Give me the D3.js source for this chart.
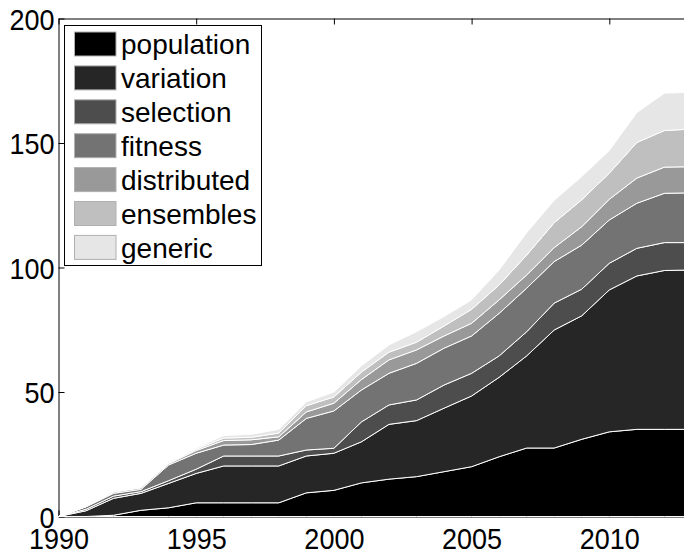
<!DOCTYPE html>
<html><head><meta charset="utf-8">
<script src="https://cdn.jsdelivr.net/npm/d3@7"></script>
<style>body{margin:0;background:#fff}text{font-family:"Liberation Sans",Arial,Helvetica,sans-serif}</style>
</head><body><svg id="c" width="684" height="555"></svg>
<script>
const years = [1990,1991,1992,1993,1994,1995,1996,1997,1998,1999,2000,2001,2002,2003,2004,2005,2006,2007,2008,2009,2010,2011,2012,2013];
const seriesNames = ["population","variation","selection","fitness","distributed","ensembles","generic"];
const population  = [0,0,0.5,2.5,3.5,5.5,5.5,5.5,5.5,9.5,10.5,13.5,15,16,18,20,24,27.5,27.5,31,34,35,35,35];
const variation   = [0,2.3,6.8,6.8,9.8,11.8,14.8,14.8,14.8,14.8,14.9,16.5,22,22.5,25.5,28.4,31.9,37,47.4,49.6,57,61.6,63.8,64];
const selection   = [0,0.6,0.9,0.7,1.1,1.7,4,4,4,2.4,2,8,7.8,8.3,9.3,9.1,8.6,9.7,10.8,10.7,10.7,11.1,11.2,11];
const fitness     = [0,1,1.1,0.9,6.3,6.4,4.4,4.6,6.4,12.7,15,12.8,12.7,14.7,14.8,15,17.1,17.5,16.7,17.7,17.4,18.1,19.8,20];
const distributed = [0,0.1,0.5,0.6,0.5,1.1,1.8,1.9,1.3,2.6,3.1,4.2,5.4,5.4,4.9,5.1,5.4,5.3,5.6,7.4,8.3,10.1,10.5,10.5];
const ensembles   = [0,0,0.2,0.3,0.3,0.5,1,1,1.5,2.5,2.5,3,3.1,3.1,4,5.6,6,8,10,10.8,10.5,14.3,14.7,15.1];
const generic     = [0,0.2,0.3,0.2,0.3,0.5,1,1.2,1.5,1.5,2,2.5,2.9,4.2,3.8,3.8,6,9,9,9.3,9.1,12,15,14.8];
const xTicks = [1990,1995,2000,2005,2010];
const yTicks = [0,50,100,150,200];
const colors = ["#000000","#262626","#4d4d4d","#737373","#999999","#bfbfbf","#e6e6e6"];

const seriesData = {population,variation,selection,fitness,distributed,ensembles,generic};
const table = years.map((yr,i)=>{const r={year:yr}; seriesNames.forEach(k=>r[k]=seriesData[k][i]); return r;});
const stacked = d3.stack().keys(seriesNames)(table);

const L=58.5, T=18.5, B=516.5, pxPerYear=27.54;
const x = d3.scaleLinear().domain([1990,2013]).range([L, L+23*pxPerYear]);
const y = d3.scaleLinear().domain([0,200]).range([B,T]);
const svg = d3.select("#c");
const FS = 28, TFS = 27;

// axes (drawn beneath the data, as in MATLAB)
const gl = svg.append("g").attr("transform",`translate(${L},0)`)
  .call(d3.axisLeft(y).tickValues(yTicks).tickSizeInner(-6).tickSizeOuter(0).tickPadding(4).tickFormat(d3.format("d")));
const gt = svg.append("g").attr("transform",`translate(0,${T})`)
  .call(d3.axisTop(x).tickValues(xTicks).tickSizeInner(-6).tickSizeOuter(0).tickFormat(""));
const gb = svg.append("g").attr("transform",`translate(0,${B})`)
  .call(d3.axisBottom(x).tickValues(xTicks).tickSizeInner(-6).tickSizeOuter(0).tickPadding(0).tickFormat(d3.format("d")));
[gl,gt,gb].forEach(g=>{g.selectAll("path,line").attr("stroke","#000").attr("stroke-width",1);
  g.selectAll("text").attr("font-size",TFS).attr("fill","#000").attr("font-family",null);});
gl.selectAll("text").attr("dy",null).attr("y",0).attr("transform","translate(0,10.5) scale(1,1.1)");
gb.selectAll("text").attr("dy",null).attr("y",0).attr("transform","translate(0,32.5) scale(1,1.1)");

const area = d3.area().x(d=>x(d.data.year)).y0(d=>y(d[0])).y1(d=>y(d[1]));
svg.append("g").selectAll("path").data(stacked).join("path")
  .attr("d",area).attr("fill",(d,i)=>colors[i]).attr("stroke","#fff").attr("stroke-width",1)
  .attr("stroke-linejoin","round");

// legend
const lg = svg.append("g");
lg.append("rect").attr("x",64.5).attr("y",25.5).attr("width",197).attr("height",240)
  .attr("fill","#fff").attr("stroke","#000").attr("stroke-width",1);
const rowH = 33.9;
const rows = lg.selectAll("g.row").data(seriesNames).join("g").attr("class","row")
  .attr("transform",(d,i)=>`translate(0,${i*rowH})`);
rows.append("rect").attr("x",74.5).attr("y",32).attr("width",41.5).attr("height",24)
  .attr("fill",(d,i)=>colors[i]).attr("stroke","#b0b0b0").attr("stroke-width",1);
rows.append("text").attr("x",121).attr("y",54.3).attr("font-size",FS).attr("fill","#000").text(d=>d);
</script></body></html>
